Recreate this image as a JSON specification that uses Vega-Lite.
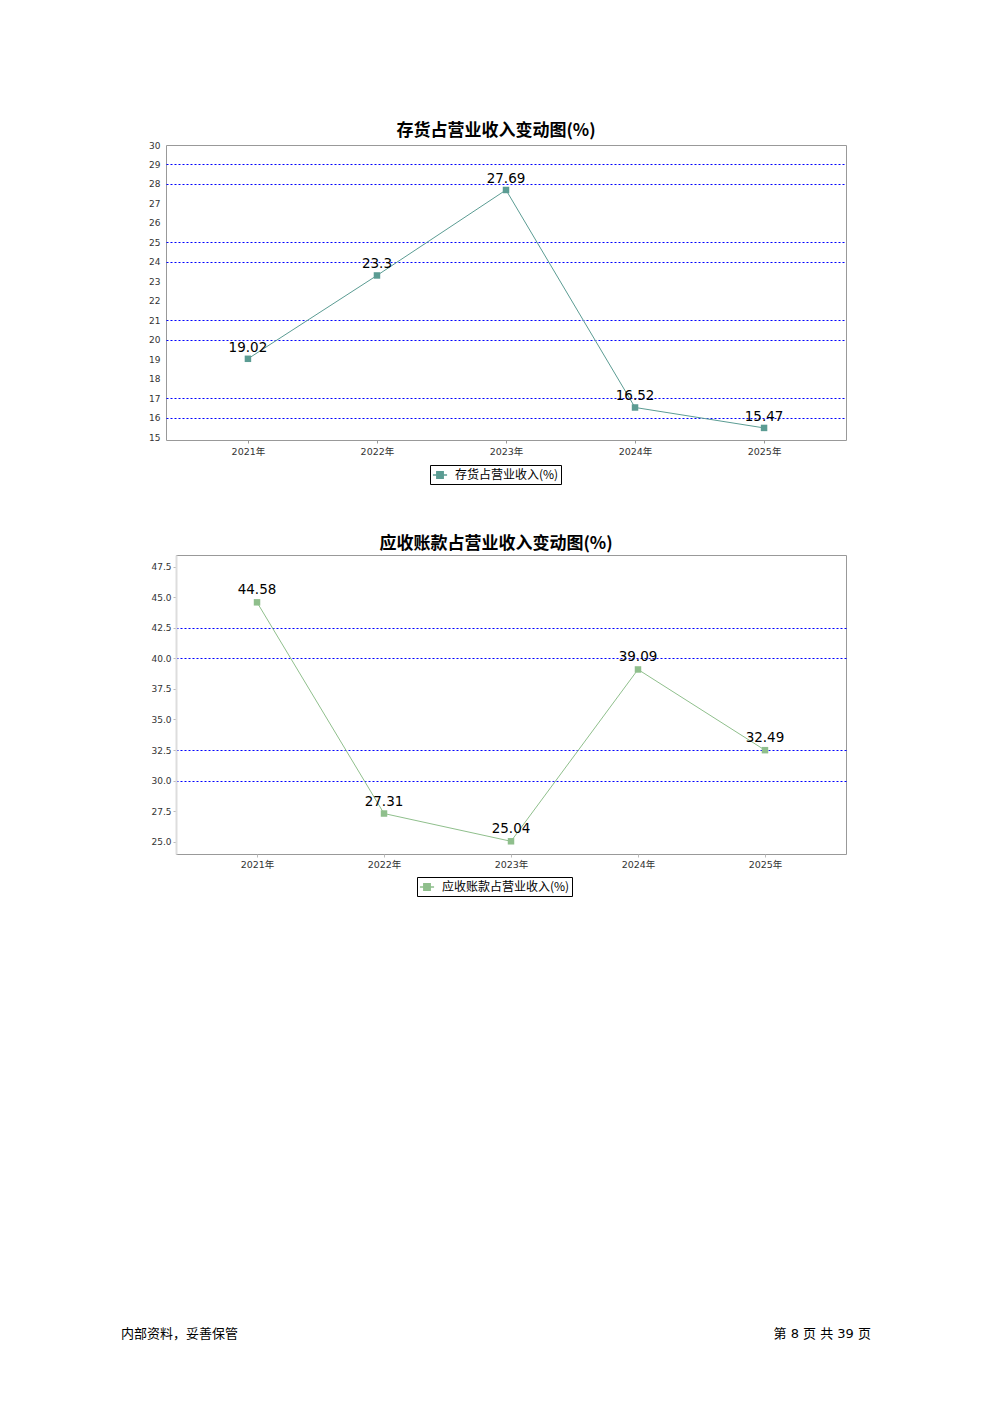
{
  "$schema": "https://vega.github.io/schema/vega-lite/v6.json",
  "background": "white",
  "padding": {"left": 120, "top": 121, "right": 10, "bottom": 10},
  "datasets": {
    "inv": [
      {"year": "2021年", "series": "存货占营业收入(%)", "value": 19.02},
      {"year": "2022年", "series": "存货占营业收入(%)", "value": 23.3},
      {"year": "2023年", "series": "存货占营业收入(%)", "value": 27.69},
      {"year": "2024年", "series": "存货占营业收入(%)", "value": 16.52},
      {"year": "2025年", "series": "存货占营业收入(%)", "value": 15.47}
    ],
    "ar": [
      {"year": "2021年", "series": "应收账款占营业收入(%)", "value": 44.58},
      {"year": "2022年", "series": "应收账款占营业收入(%)", "value": 27.31},
      {"year": "2023年", "series": "应收账款占营业收入(%)", "value": 25.04},
      {"year": "2024年", "series": "应收账款占营业收入(%)", "value": 39.09},
      {"year": "2025年", "series": "应收账款占营业收入(%)", "value": 32.49}
    ],
    "footer": [
      {"left": "内部资料，妥善保管", "right": "第 8 页  共 39 页"}
    ]
  },
  "config": {
    "font": "DejaVu Sans, Noto Sans CJK SC",
    "axis": {
      "labelFont": "DejaVu Sans, Noto Sans CJK SC",
      "labelColor": "#333333",
      "title": null
    },
    "title": {
      "font": "Noto Sans CJK SC",
      "fontSize": 17,
      "fontWeight": "bold",
      "color": "black",
      "anchor": "middle",
      "offset": 1
    }
  },
  "spacing": 427,
  "vconcat": [
    {
      "spacing": 49,
      "vconcat": [
        {
          "width": 680,
          "height": 295,
          "view": {"stroke": "#999999", "strokeWidth": 1},
          "title": {"text": "存货占营业收入变动图(%)", "dx": -10},
          "data": {"name": "inv"},
          "encoding": {
            "x": {
              "field": "year", "type": "ordinal",
              "scale": {"type": "point", "padding": 0.635},
              "axis": {"labelAngle": 0, "labelFontSize": 9.5, "tickSize": 3, "tickColor": "#999999", "domain": false, "grid": false, "labelPadding": 3}
            },
            "y": {
              "field": "value", "type": "quantitative",
              "scale": {"domain": [14.85, 30], "nice": false, "zero": false},
              "axis": {
                "values": [15, 16, 17, 18, 19, 20, 21, 22, 23, 24, 25, 26, 27, 28, 29, 30],
                "labelFontSize": 9, "ticks": false, "domain": false, "labelPadding": 6,
                "minExtent": 45, "maxExtent": 45,
                "grid": true, "gridColor": "#0000ff", "gridDash": [2, 2], "gridWidth": 1,
                "gridOpacity": {"condition": {"test": "indexof([16,17,20,21,24,25,28,29], datum.value) >= 0", "value": 1}, "value": 0}
              }
            }
          },
          "layer": [
            {
              "mark": {"type": "line", "strokeWidth": 1},
              "encoding": {
                "color": {
                  "field": "series", "type": "nominal",
                  "scale": {"range": ["#5b9c93"]},
                  "legend": {
                    "orient": "none", "legendX": 264, "legendY": 320,
                    "title": null, "strokeColor": "black",
                    "padding": 2, "labelFont": "Noto Sans CJK SC", "labelFontSize": 12,
                    "labelColor": "black", "labelOffset": 7,
                    "symbolType": "M-1,0H1M-0.45,-0.45H0.45V0.45H-0.45Z", "symbolSize": 200,
                    "symbolStrokeWidth": 1.5
                  }
                }
              }
            },
            {
              "mark": {"type": "point", "shape": "square", "filled": true, "opacity": 1, "size": 42},
              "encoding": {
                "color": {"field": "series", "type": "nominal", "scale": {"range": ["#5b9c93"]}}
              }
            },
            {
              "mark": {"type": "text", "dy": -11, "fontSize": 13.5, "color": "black", "font": "DejaVu Sans"},
              "encoding": {"text": {"field": "value", "type": "quantitative"}}
            }
          ]
        },
        {
          "spacing": -47,
          "hconcat": [
            {
              "width": 1,
              "height": 299,
              "view": {"stroke": null},
              "data": {"values": []},
              "mark": "point"
            },
            {
              "width": 670,
              "height": 299,
              "view": {"stroke": "#999999", "strokeWidth": 1},
              "title": {"text": "应收账款占营业收入变动图(%)", "dx": -15, "offset": 2},
              "data": {"name": "ar"},
              "encoding": {
                "x": {
                  "field": "year", "type": "ordinal",
                  "scale": {"type": "point", "padding": 0.638},
                  "axis": {"labelAngle": 0, "labelFontSize": 9.5, "tickSize": 3, "tickColor": "#bbbbbb", "domain": false, "grid": false, "labelPadding": 2}
                },
                "y": {
                  "field": "value", "type": "quantitative",
                  "scale": {"domain": [24.0, 48.45], "nice": false, "zero": false},
                  "axis": {
                    "values": [25, 27.5, 30, 32.5, 35, 37.5, 40, 42.5, 45, 47.5],
                    "format": ".1f",
                    "labelFontSize": 9, "tickSize": 3, "tickColor": "#bbbbbb", "domain": true, "domainColor": "#dddddd", "domainWidth": 2, "labelPadding": 2,
                    "minExtent": 55, "maxExtent": 55,
                    "grid": true, "gridColor": "#0000ff", "gridDash": [2, 2], "gridWidth": 1,
                    "gridOpacity": {"condition": {"test": "indexof([30,32.5,40,42.5], datum.value) >= 0", "value": 1}, "value": 0}
                  }
                }
              },
              "layer": [
                {
                  "mark": {"type": "line", "strokeWidth": 1},
                  "encoding": {
                    "color": {
                      "field": "series", "type": "nominal",
                      "scale": {"range": ["#8fbf8c"]},
                      "legend": {
                        "orient": "none", "legendX": 251, "legendY": 322,
                        "title": null, "strokeColor": "black",
                        "padding": 2, "labelFont": "Noto Sans CJK SC", "labelFontSize": 12,
                        "labelColor": "black", "labelOffset": 7,
                        "symbolType": "M-1,0H1M-0.45,-0.45H0.45V0.45H-0.45Z", "symbolSize": 200,
                        "symbolStrokeWidth": 1.5
                      }
                    }
                  }
                },
                {
                  "mark": {"type": "point", "shape": "square", "filled": true, "opacity": 1, "size": 42},
                  "encoding": {
                    "color": {"field": "series", "type": "nominal", "scale": {"range": ["#8fbf8c"]}}
                  }
                },
                {
                  "mark": {"type": "text", "dy": -12, "fontSize": 13.5, "color": "black", "font": "DejaVu Sans"},
                  "encoding": {"text": {"field": "value", "type": "quantitative"}}
                }
              ]
            }
          ]
        }
      ],
      "resolve": {"scale": {"color": "independent", "x": "independent", "y": "independent"}}
    },
    {
      "width": 705,
      "height": 20,
      "view": {"stroke": null},
      "data": {"name": "footer"},
      "layer": [
        {
          "mark": {"type": "text", "align": "left", "dx": -45, "fontSize": 13, "font": "Noto Sans CJK SC", "color": "black"},
          "encoding": {
            "x": {"datum": 0, "type": "quantitative", "scale": {"domain": [0, 1]}, "axis": null},
            "text": {"field": "left", "type": "nominal"}
          }
        },
        {
          "mark": {"type": "text", "align": "right", "fontSize": 13, "font": "DejaVu Sans, Noto Sans CJK SC", "color": "black"},
          "encoding": {
            "x": {"datum": 1, "type": "quantitative", "scale": {"domain": [0, 1]}, "axis": null},
            "text": {"field": "right", "type": "nominal"}
          }
        }
      ]
    }
  ]
}
